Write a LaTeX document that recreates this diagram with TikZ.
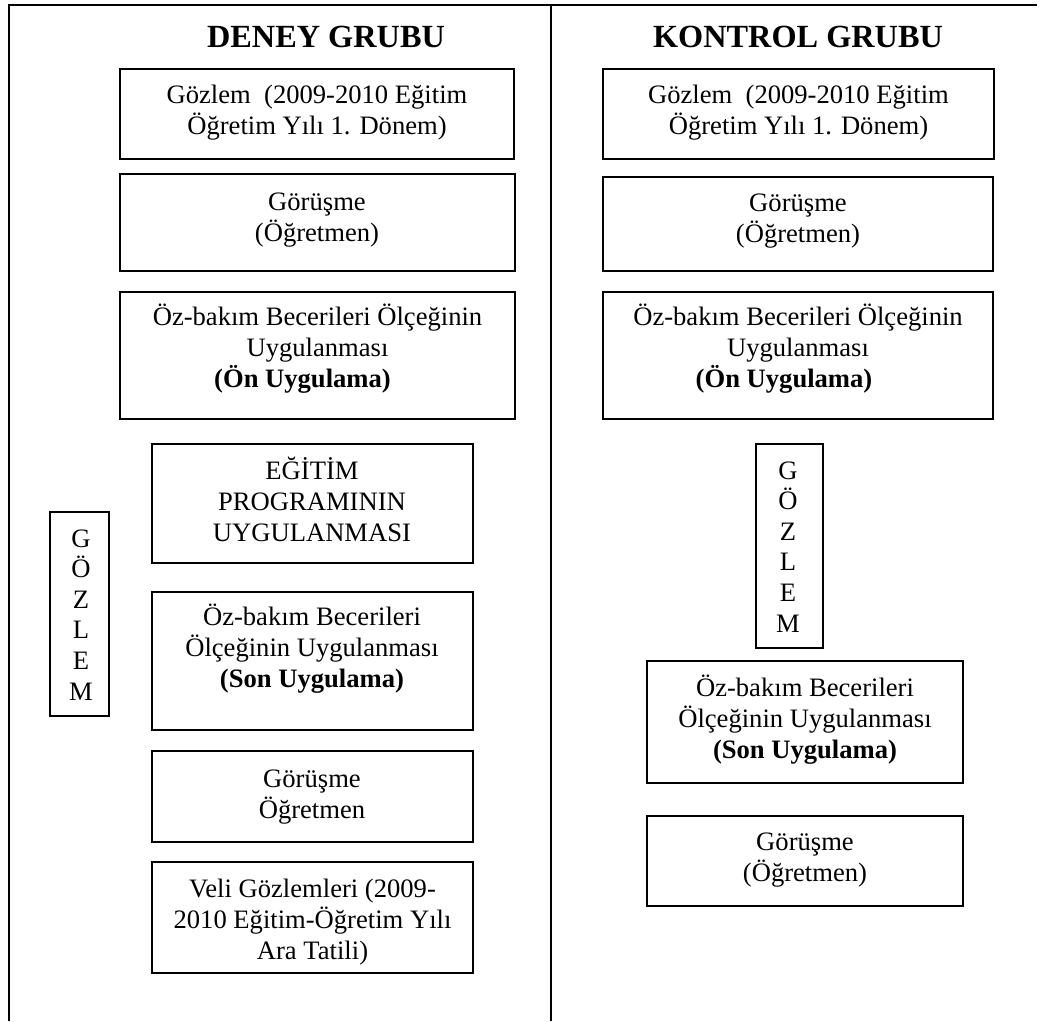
\documentclass[tikz,border=0pt]{standalone}
\usepackage{fontspec}
\setmainfont{Liberation Serif}
\newcommand{\linestab}[1]{\begin{tabular}[t]{@{}c@{}}#1\end{tabular}}
\begin{document}
\begin{tikzpicture}[x=1pt,y=-1pt,
  box/.style={draw, line width=1.6pt, inner sep=0pt, outer sep=0pt},
  frame/.style={line width=1.6pt},
  txt/.style={anchor=base, inner sep=0pt, outer sep=0pt, font=\fontsize{26.6}{31}\selectfont},
  ttl/.style={anchor=base, inner sep=0pt, outer sep=0pt, font=\fontsize{32.3}{38}\selectfont\bfseries},
  vert/.style={anchor=base, inner sep=0pt, outer sep=0pt, font=\fontsize{26.6}{30.6}\selectfont}]
\useasboundingbox (0,0) rectangle (1045,1021);
% frame
\draw[frame] (9,1021) -- (9,5) -- (1037,5);
\draw[frame] (551,5) -- (551,1021);
% titles
\node[ttl] (tdeney) at (326,47) {DENEY GRUBU};
\node[ttl] (tkontrol) at (798,47) {KONTROL GRUBU};
% Deney boxes
\node[box, minimum width=394pt, minimum height=90pt] (d1) at (317,114) {};
\node[box, minimum width=395pt, minimum height=97pt] (d2) at (317.5,222.5) {};
\node[box, minimum width=395pt, minimum height=127pt] (d3) at (317.5,355.5) {};
\node[box, minimum width=321pt, minimum height=119pt] (d4) at (312.5,503.5) {};
\node[box, minimum width=321pt, minimum height=138pt] (d5) at (312.5,661) {};
\node[box, minimum width=321pt, minimum height=91pt] (d6) at (312.5,796.5) {};
\node[box, minimum width=321pt, minimum height=111pt] (d7) at (312.5,917.5) {};
\node[box, minimum width=59pt, minimum height=204pt] (dg) at (79.5,614) {};
% Deney texts
\node[txt] (d1t) at (317,103) {\linestab{Gözlem\ \ (2009-2010 Eğitim\\Öğretim Yılı 1. Dönem)}};
\node[txt] (d2t) at (317,210) {\linestab{Görüşme\\(Öğretmen)}};
\node[txt] (d3t) at (317.5,325) {\linestab{Öz-bakım Becerileri Ölçeğinin\\Uygulanması\\\textbf{(Ön Uygulama)}\hspace*{30pt}}};
\node[txt] (d4t) at (312,479) {\linestab{EĞİTİM\\PROGRAMININ\\UYGULANMASI}};
\node[txt] (d5t) at (312,625) {\linestab{Öz-bakım Becerileri\\Ölçeğinin Uygulanması\\\textbf{(Son Uygulama)}}};
\node[txt] (d6t) at (312,787) {\linestab{Görüşme\\Öğretmen}};
\node[txt] (d7t) at (312.5,897) {\linestab{Veli Gözlemleri (2009-\\2010 Eğitim-Öğretim Yılı\\Ara Tatili)}};
\node[vert] (dgt) at (81,547) {\linestab{G\\Ö\\Z\\L\\E\\M}};
% Kontrol boxes
\node[box, minimum width=391pt, minimum height=90pt] (k1) at (798.5,114) {};
\node[box, minimum width=390pt, minimum height=94pt] (k2) at (798,224) {};
\node[box, minimum width=390pt, minimum height=127pt] (k3) at (798,355.5) {};
\node[box, minimum width=67pt, minimum height=204pt] (kg) at (789.5,546) {};
\node[box, minimum width=316pt, minimum height=122pt] (k4) at (805,722) {};
\node[box, minimum width=316pt, minimum height=90pt] (k5) at (805,861) {};
% Kontrol texts
\node[txt] (k1t) at (798.5,103) {\linestab{Gözlem\ \ (2009-2010 Eğitim\\Öğretim Yılı 1. Dönem)}};
\node[txt] (k2t) at (798,211) {\linestab{Görüşme\\(Öğretmen)}};
\node[txt] (k3t) at (798,325) {\linestab{Öz-bakım Becerileri Ölçeğinin\\Uygulanması\\\textbf{(Ön Uygulama)}\hspace*{28pt}}};
\node[vert] (kgt) at (788,479) {\linestab{G\\Ö\\Z\\L\\E\\M}};
\node[txt] (k4t) at (805,696) {\linestab{Öz-bakım Becerileri\\Ölçeğinin Uygulanması\\\textbf{(Son Uygulama)}}};
\node[txt] (k5t) at (805,850) {\linestab{Görüşme\\(Öğretmen)}};
\end{tikzpicture}
\end{document}
